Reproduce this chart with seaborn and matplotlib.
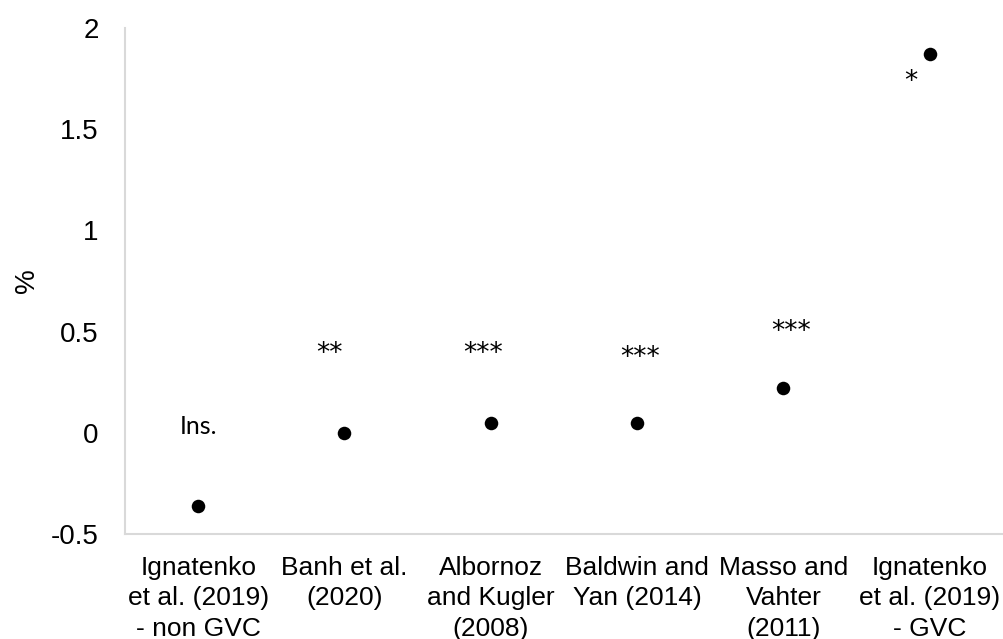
import matplotlib
matplotlib.use("Agg")
import matplotlib.pyplot as plt
from matplotlib.ticker import FuncFormatter
import seaborn as sns
import pandas as pd

# Estimated effect of each study (%)
studies = [
    "Ignatenko\net al. (2019)\n- non GVC",
    "Banh et al.\n(2020)",
    "Albornoz\nand Kugler\n(2008)",
    "Baldwin and\nYan (2014)",
    "Masso and\nVahter\n(2011)",
    "Ignatenko\net al. (2019)\n- GVC",
]
effects = [-0.36, 0.00, 0.05, 0.05, 0.22, 1.87]
significance = ["Ins.", "**", "***", "***", "***", "*"]

y_ticks = [-0.5, 0, 0.5, 1, 1.5, 2]

# label placement relative to each marker, in pixels (dx, dy)
label_offsets = [(0, 72), (-15, 72), (-8, 62), (3, 58), (8, 49), (-19, -35)]

sns.set_style("white")
plt.rcParams["font.family"] = ["Liberation Sans", "DejaVu Sans"]
plt.rcParams["axes.unicode_minus"] = False
plt.rcParams["text.color"] = "black"
plt.rcParams["axes.labelcolor"] = "black"
plt.rcParams["xtick.color"] = "black"
plt.rcParams["ytick.color"] = "black"

df = pd.DataFrame({"study": studies, "effect": effects})

fig = plt.figure(figsize=(10.04, 6.39), dpi=100)
ax = fig.add_axes([125 / 1004, (639 - 534) / 639, 878 / 1004, 506 / 639])

sns.scatterplot(data=df, x="study", y="effect", ax=ax, color="black",
                s=95, edgecolor="black", linewidth=0, zorder=3)

for i, (lab, val) in enumerate(zip(significance, effects)):
    dx, dy = label_offsets[i]
    is_word = any(c.isalpha() for c in lab)
    fam = ["Lato", "DejaVu Sans"] if is_word else ["DejaVu Sans"]
    ax.annotate(lab, xy=(i, val), xytext=(dx, dy), textcoords="offset pixels",
                ha="center", va="baseline", fontsize=18 if is_word else 19,
                family=fam, color="black")

ax.set_xlim(-0.5, len(studies) - 0.5)
ax.set_ylim(-0.5, 2)
ax.set_yticks(y_ticks)
ax.yaxis.set_major_formatter(FuncFormatter(lambda v, p: f"{v:g}"))

ax.set_xlabel("")
ax.set_ylabel("%", fontsize=20, labelpad=8)
ax.tick_params(axis="y", labelsize=20, length=0, pad=19)
ax.tick_params(axis="x", labelsize=19, length=0, pad=16)
for t in ax.get_xticklabels():
    t.set_linespacing(1.33)

for side in ["top", "right"]:
    ax.spines[side].set_visible(False)
for side in ["left", "bottom"]:
    ax.spines[side].set_color("#d9d9d9")
    ax.spines[side].set_linewidth(1.5)

fig.savefig("out.png", dpi=100)
